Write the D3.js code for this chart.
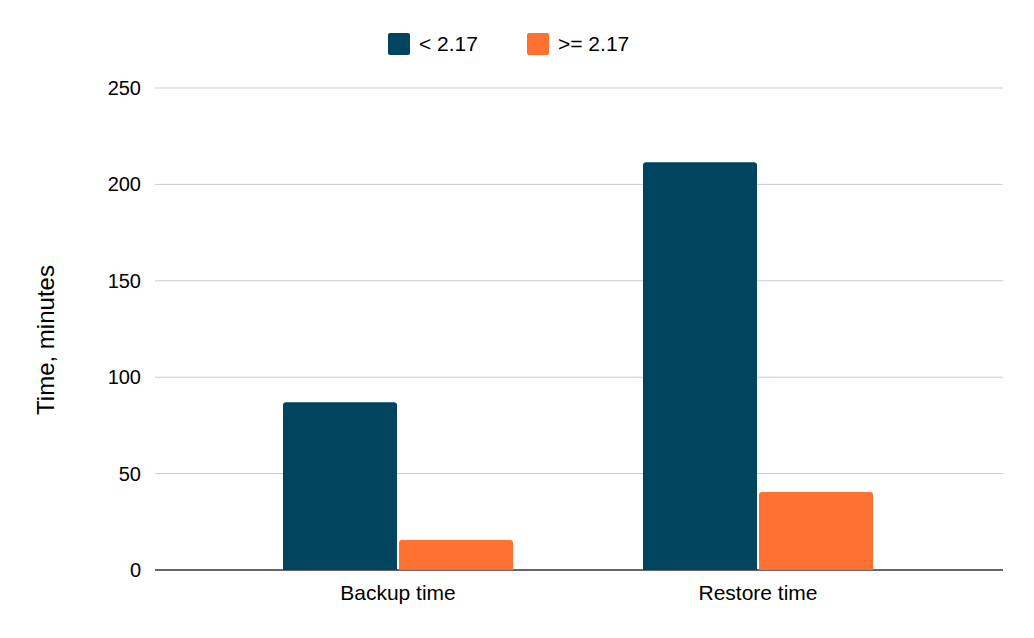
<!DOCTYPE html>
<html><head><meta charset="utf-8">
<script src="https://cdn.jsdelivr.net/npm/d3@7"></script>
<style>body{margin:0;background:#fff}text{font-family:"Liberation Sans",Arial,sans-serif;fill:#000}</style>
</head><body><svg id="c" width="1034" height="638"></svg>
<script>
const categories=["Backup time","Restore time"];
const seriesNames=["< 2.17",">= 2.17"];
const below=[87,211.5];
const above=[15.5,40.5];
const yTicks=[0,50,100,150,200,250];
const colors=["#01445f","#ff7033"];
const svg=d3.select("#c");
const y=d3.scaleLinear().domain([0,250]).range([570,88]);
const x0=d3.scaleBand().domain(categories).range([218,938]);
const x1=d3.scaleBand().domain(seriesNames).range([65,295]).paddingInner(0.017);
svg.selectAll(".g").data(yTicks).join("line").attr("x1",155).attr("x2",1003)
 .attr("y1",d=>y(d)).attr("y2",d=>y(d)).attr("stroke",d=>d===0?"#333":"#ccc").attr("stroke-width",d=>d===0?1.3:1);
svg.selectAll(".yt").data(yTicks).join("text").attr("x",141).attr("y",d=>y(d)+7)
 .attr("text-anchor","end").attr("font-size",20).text(d=>d);
const data=[below,above];
categories.forEach((c,i)=>{
 seriesNames.forEach((s,j)=>{
  const v=data[j][i];
  svg.append("path").attr("fill",colors[j]).attr("d",()=>{
   const xl=x0(c)+x1(s),w=x1.bandwidth(),t=y(v),b=y(0),r=3;
   return `M${xl},${b}V${t+r}Q${xl},${t} ${xl+r},${t}H${xl+w-r}Q${xl+w},${t} ${xl+w},${t+r}V${b}Z`;
  });
 });
 svg.append("text").attr("x",x0(c)+x0.bandwidth()/2).attr("y",600).attr("text-anchor","middle").attr("font-size",21).text(c);
});
svg.append("text").attr("transform","translate(54,340) rotate(-90)").attr("text-anchor","middle").attr("font-size",24).text("Time, minutes");
const lx=[388,527];
seriesNames.forEach((s,j)=>{
 svg.append("rect").attr("x",lx[j]).attr("y",33).attr("width",22).attr("height",22).attr("rx",2).attr("fill",colors[j]);
 svg.append("text").attr("x",lx[j]+31).attr("y",51).attr("font-size",21).text(s);
});
</script></body></html>
